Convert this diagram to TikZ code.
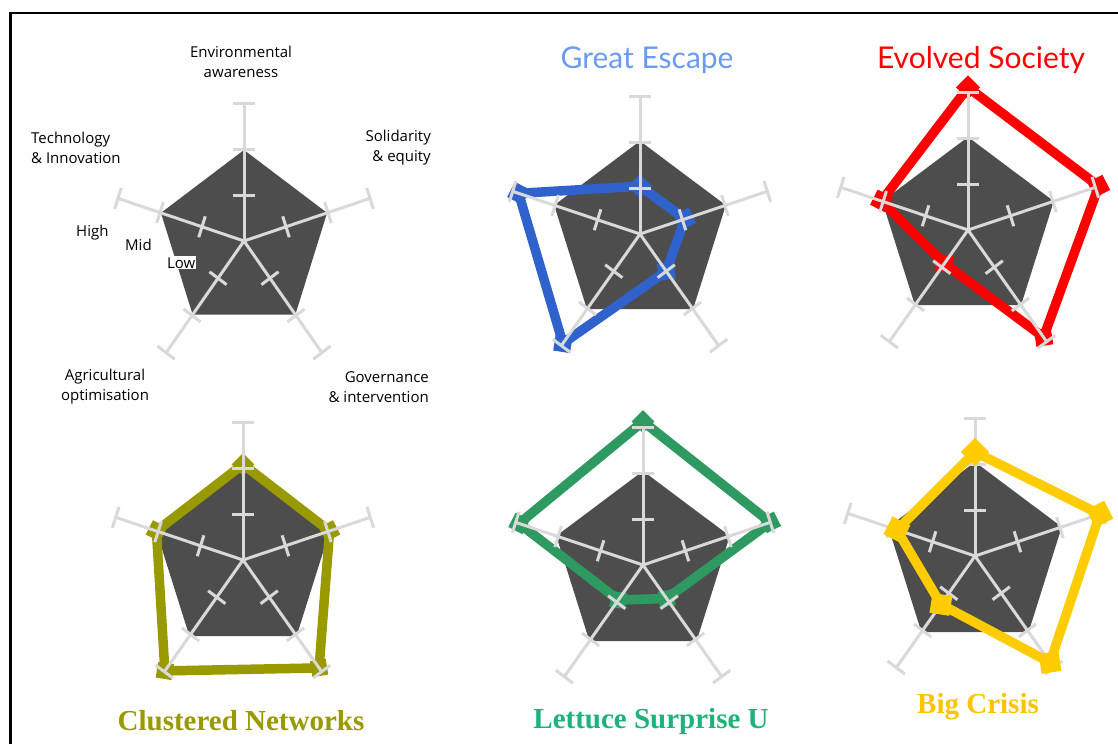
\documentclass[tikz,border=0pt]{standalone}
\usepackage{fontspec}
\setmainfont{Liberation Serif}
\newfontfamily\labelfont{Open Sans}
\newfontfamily\titlefont{Lato}
\usetikzlibrary{calc}

\definecolor{pentagray}{HTML}{4D4D4D}
\definecolor{spokegray}{HTML}{D9D9D9}
\definecolor{geline}{HTML}{2F62CC}
\definecolor{getitle}{HTML}{6A9BF4}
\definecolor{esred}{HTML}{FF0000}
\definecolor{cnolive}{HTML}{999900}
\definecolor{lsgreen}{HTML}{2E9A62}
\definecolor{lstitle}{HTML}{1DB37A}
\definecolor{bcyellow}{HTML}{FFCC00}
\definecolor{bctitle}{HTML}{FFC400}

\newcommand\rdbase[1]{%
  \fill[pentafill] (-90:#1) -- (-18:#1) -- (54:#1) -- (126:#1) -- (198:#1) -- cycle;}
\newcommand\rdspokes{%
  \foreach \a in {-90,-18,54,126,198}{%
    \draw[spokeline] (0,0) -- (\a:138);
    \foreach \d in {46,92,138}
      \draw[spokeline] ($(\a:\d)+({\a+90}:11)$) -- ($(\a:\d)+({\a-90}:11)$);
  }}
\newcommand\rddata[8]{%
  \coordinate (#1a) at (-90:{#3*92});
  \coordinate (#1b) at (-18:{#4*92});
  \coordinate (#1c) at (54:{#5*92});
  \coordinate (#1d) at (126:{#6*92});
  \coordinate (#1e) at (198:{#7*92});
  \draw[dataline,draw=#2] (#1a) -- (#1b) -- (#1c) -- (#1d) -- (#1e) -- cycle;
  \foreach \p/\a in {a/-90,b/-18,c/54,d/126,e/198}
    \node[datamarker=#2,minimum size=#8,rotate=\a+45] (#1m\p) at (#1\p) {};
}

\begin{document}
\begin{tikzpicture}[x=1pt,y=-1pt,
  pentafill/.style={fill=pentagray},
  spokeline/.style={draw=spokegray,line width=3pt},
  dataline/.style={line width=9.5pt,line join=miter},
  datamarker/.style={rectangle,inner sep=0pt,fill=#1},
  axislabel/.style={font=\labelfont\fontsize{15}{20}\selectfont,text=black,inner sep=0pt},
  toptitle/.style={font=\titlefont\fontsize{30}{34}\selectfont,anchor=base,inner sep=0pt},
  bottitle/.style={font=\bfseries\fontsize{29}{33}\selectfont,anchor=base,inner sep=0pt},
  frameline/.style={line width=2.4pt,draw=black},
]
\useasboundingbox (0,0) rectangle (1118,744);
\fill[white] (0,0) rectangle (1118,744);

% frame
\coordinate (fbl) at (10.3,744);
\coordinate (ftl) at (10.3,12.8);
\coordinate (ftr) at (1118,12.8);
\draw[frameline] (fbl) -- (ftl) -- (ftr);

% ---------- legend chart ----------
\begin{scope}[shift={(244,241)},xscale=0.96]
  \coordinate (lg) at (0,0);
  \rdbase{91}
  \rdspokes
\end{scope}
\node[axislabel,align=center] (lenv) at (241,62) {Environmental\\awareness};
\node[axislabel,align=right,anchor=east] (lsol) at (431,148) {Solidarity\\\& equity};
\node[axislabel,align=left,anchor=west] (ltech) at (31,148) {Technology\\\& Innovation};
\node[axislabel,align=center] (lagri) at (105,387) {Agricultural\\optimisation};
\node[axislabel,align=right,anchor=east] (lgov) at (429,387) {Governance\\\& intervention};
\node[axislabel,anchor=base west] (lhigh) at (76,236) {High};
\node[axislabel,anchor=base west] (lmid) at (125,250) {Mid};
\node[axislabel,anchor=base west,fill=white,inner sep=1pt] (llow) at (166,268) {Low};

% ---------- Great Escape ----------
\begin{scope}[shift={(640,234)},xscale=0.97]
  \rdbase{93}
  \rddata{ge}{geline}{0.52}{0.53}{0.5}{1.47}{1.43}{17pt}
  \rdspokes
\end{scope}
\node[toptitle,text=getitle] (tge) at (647,68) {Great Escape};

% ---------- Evolved Society ----------
\begin{scope}[shift={(968,230)},xscale=0.97]
  \rdbase{93}
  \rddata{es}{esred}{1.55}{1.54}{1.44}{0.45}{1.02}{17pt}
  \rdspokes
\end{scope}
\node[toptitle,text=esred] (tes) at (981,68) {Evolved Society};

% ---------- Clustered Networks ----------
\begin{scope}[shift={(243,560)},xscale=0.97]
  \rdbase{94}
  \rddata{cn}{cnolive}{1.04}{1.02}{1.45}{1.49}{1.02}{16pt}
  \rdspokes
\end{scope}
\node[bottitle,text=cnolive] (tcn) at (241,730) {Clustered Networks};

% ---------- Lettuce Surprise U ----------
\begin{scope}[shift={(643,565)},xscale=0.97]
  \rdbase{94}
  \rddata{ls}{lsgreen}{1.56}{1.5}{0.45}{0.47}{1.46}{16pt}
  \rdspokes
\end{scope}
\node[bottitle,text=lstitle] (tls) at (651,728) {Lettuce Surprise U};

% ---------- Big Crisis ----------
\begin{scope}[shift={(975,556)},xscale=0.97]
  \rdbase{94}
  \rdspokes
  \rddata{bc}{bcyellow}{1.13}{1.47}{1.43}{0.65}{0.92}{20pt}
\end{scope}
\node[bottitle,text=bctitle] (tbc) at (978,713) {Big Crisis};

\end{tikzpicture}
\end{document}
